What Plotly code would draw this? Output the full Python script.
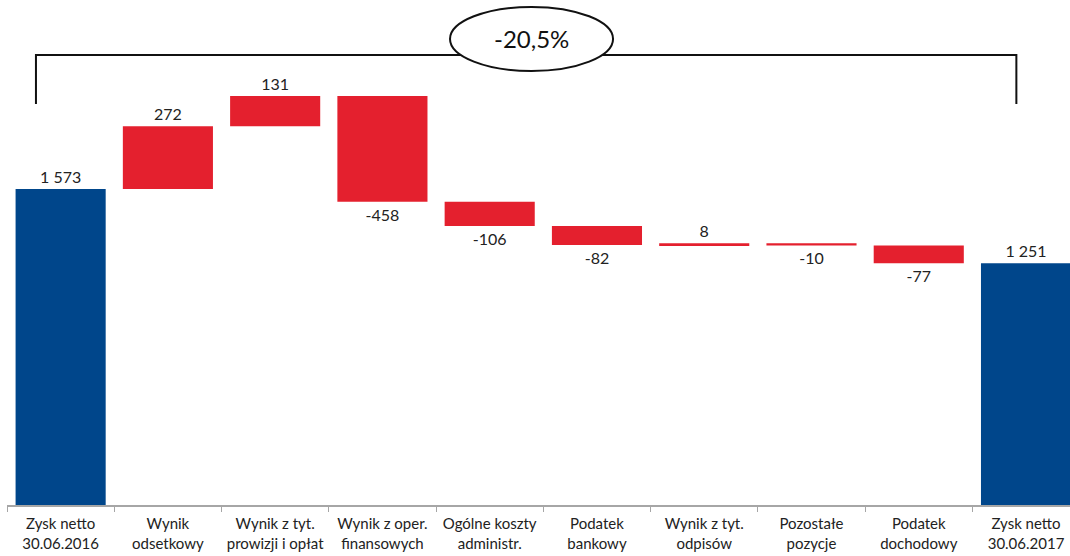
import plotly.graph_objects as go

# Profit bridge: net profit H1 2016 -> H1 2017 (PLN m)
categories = [
    "Zysk netto<br>30.06.2016",
    "Wynik<br>odsetkowy",
    "Wynik z tyt.<br>prowizji i opłat",
    "Wynik z oper.<br>finansowych",
    "Ogólne koszty<br>administr.",
    "Podatek<br>bankowy",
    "Wynik z tyt.<br>odpisów",
    "Pozostałe<br>pozycje",
    "Podatek<br>dochodowy",
    "Zysk netto<br>30.06.2017",
]
values = [1573, 272, 131, -458, -106, -82, 8, -10, -77, 1251]
measures = ["absolute"] + ["relative"] * 8 + ["total"]

RED = "#E4202E"
BLUE = "#00468B"
FONT = "Lato"


def fmt(v):
    return f"{v:,}".replace(",", " ")


labels = [fmt(v) for v in values]
change_pct = (values[-1] / values[0] - 1) * 100
change_txt = f"{change_pct:.1f}%".replace(".", ",")

fig = go.Figure(
    go.Waterfall(
        x=categories,
        y=values,
        measure=measures,
        text=labels,
        textposition="outside",
        textfont=dict(family=FONT, size=16, color="#222222"),
        cliponaxis=False,
        increasing=dict(marker=dict(color=RED)),
        decreasing=dict(marker=dict(color=RED)),
        totals=dict(marker=dict(color=BLUE)),
        connector=dict(visible=False),
        width=0.84,
        hoverinfo="skip",
    )
)

# bracket spanning the two totals with the overall change in an ellipse
line_style = dict(color="#111111", width=2)
fig.add_shape(type="path",
              path="M -0.23,1942 L -0.23,2154 L 8.91,2154 L 8.91,1942",
              xref="x", yref="y", line=line_style, layer="above")
fig.add_shape(type="circle", xref="x", yref="y",
              x0=3.63, x1=5.15, y0=2085, y1=2363,
              line=line_style, fillcolor="white", layer="above")
fig.add_annotation(x=4.39, y=2224, xref="x", yref="y", text=change_txt,
                   showarrow=False,
                   font=dict(family=FONT, size=24, color="#111111"))

fig.update_layout(
    width=1070,
    height=556,
    margin=dict(l=7, r=0, t=0, b=51),
    paper_bgcolor="white",
    plot_bgcolor="white",
    showlegend=False,
    font=dict(family=FONT, size=15, color="#222222"),
    xaxis=dict(
        range=[-0.5, 9.41],
        automargin=False,
        tickangle=0,
        showline=True,
        linecolor="#A6A6A6",
        linewidth=2,
        ticks="outside",
        tickson="boundaries",
        ticklen=5,
        tickcolor="#A6A6A6",
        ticklabelstandoff=4,
        tickfont=dict(family=FONT, size=15, color="#222222"),
        showgrid=False,
        zeroline=False,
    ),
    yaxis=dict(
        range=[202, 2393],
        visible=False,
        showgrid=False,
        zeroline=False,
    ),
)

fig.write_html("out.html")
